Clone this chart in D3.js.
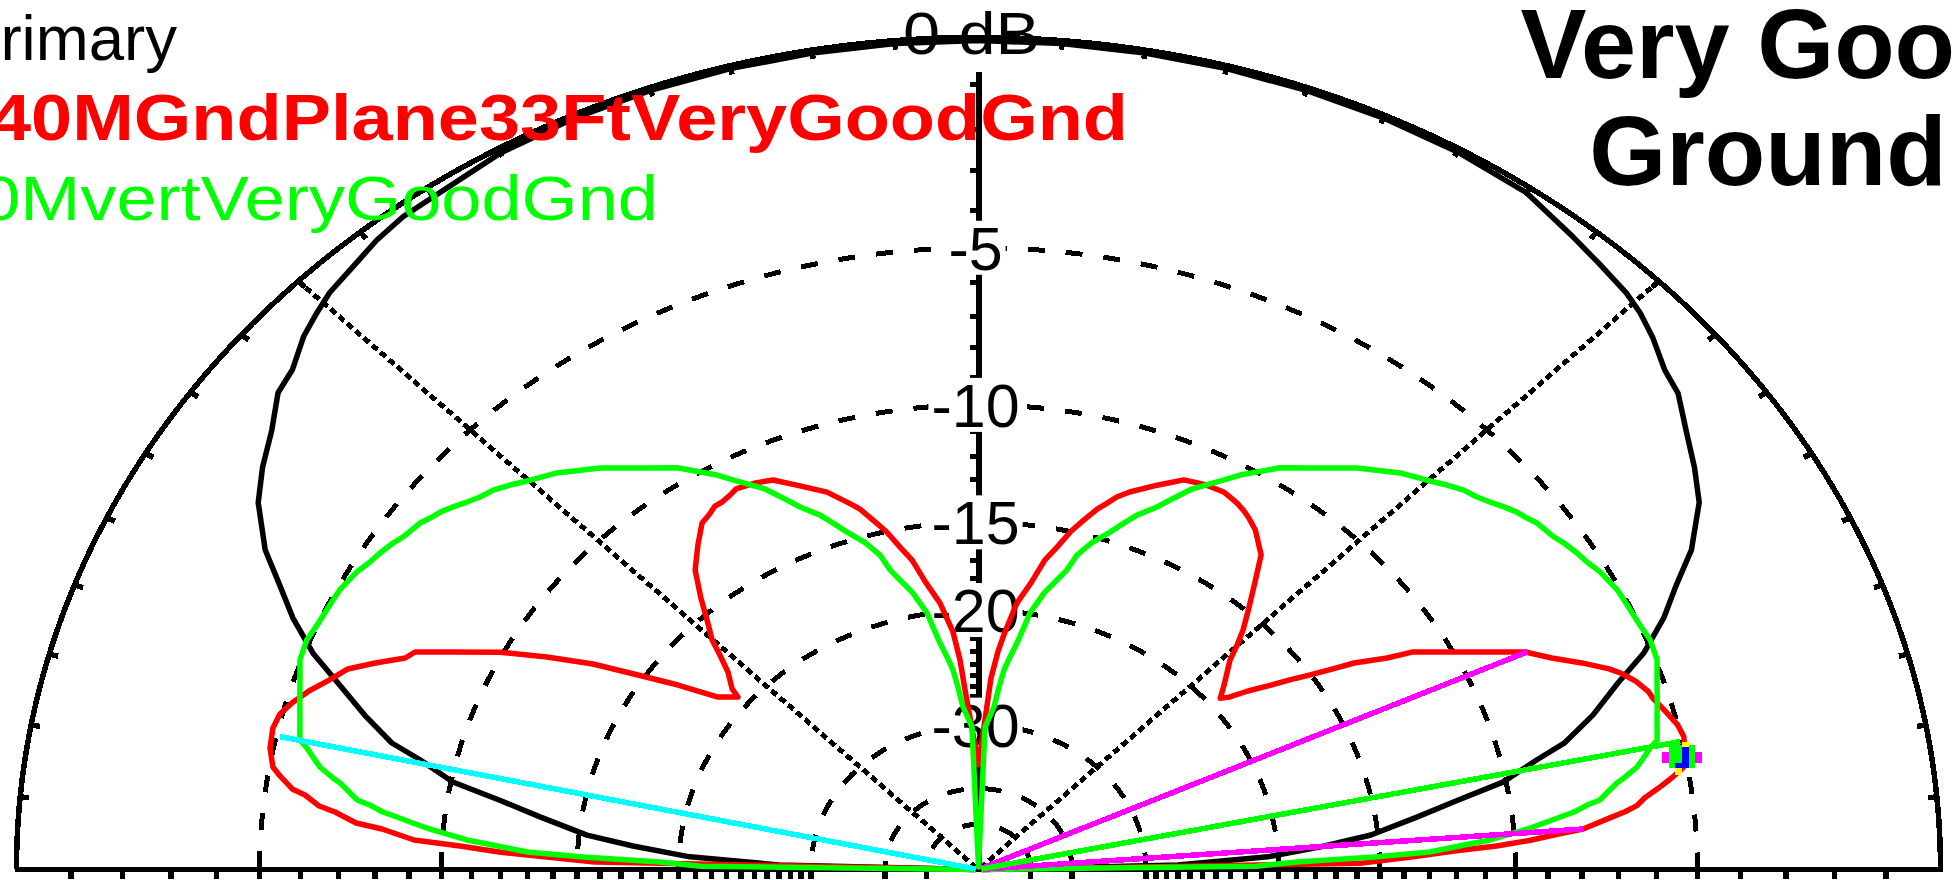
<!DOCTYPE html>
<html><head><meta charset="utf-8">
<script src="https://cdn.jsdelivr.net/npm/d3@7"></script>
<style>
html,body{margin:0;padding:0;background:#fff;overflow:hidden;}
svg{display:block;}
text{font-family:"Liberation Sans",Arial,sans-serif;}
</style></head><body>
<svg id="chart" width="1954" height="880"></svg>
<script>
// ---------------- data (elevation angle in degrees, relative gain in dB) ----------------
const ringDb = [-5, -10, -15, -20, -30, -40, -50];
const labelDb = [-5, -10, -15, -20, -30];
const labelText = ["-5", "-10", "-15", "-20", "-30"];
const topLabel = "0 dB";
const tickAngles = [5,10,15,20,25,30,35,40,45,50,55,60,65,70,75,80,85,95,100,105,110,115,120,125,130,135,140,145,150,155,160,165,170,175];
const scaleTickDb = [-1,-2,-3,-4,-5,-6,-7,-8,-9,-10,-11,-12,-13,-14,-15,-16,-17,-18,-19,-20,-21,-22,-23,-24,-25,-26,-27,-28,-29,-30,-40,-50];
const radialAngles = [45, 135];
const legendNames = ["Primary", "40MGndPlane33FtVeryGoodGnd", "40MvertVeryGoodGnd"];
const titleLines = ["Very Good", "Ground"];

const primaryPattern = [[0,-99],[1.5,-27],[2.9,-20.6],[4.5,-17.5],[5.8,-15.3],[7.9,-13.3],[9.5,-11.7],[10.9,-10.1],[12.8,-8.9],[14,-8.0],[16.2,-7.0],[18.6,-6.1],[20.6,-5.2],[23,-4.4],[25.2,-3.8],[27.4,-3.1],[30.5,-2.4],[33,-2.05],[35.5,-1.73],[38.2,-1.33],[40.1,-1.2],[42.4,-0.9],[44.2,-0.71],[45.8,-0.59],[48.5,-0.47],[50.9,-0.35],[55,-0.12],[60,-0.07],[65,-0.06],[70,-0.06],[75,-0.06],[80,-0.06],[85,-0.06],[90,-0.06],[95,-0.06],[100,-0.06],[105,-0.06],[110,-0.06],[115,-0.07],[120,-0.1],[127.3,-0.23],[129.6,-0.32],[131.9,-0.46],[134.2,-0.57],[135.8,-0.71],[137.6,-0.88],[139.9,-1.2],[141.8,-1.31],[144.3,-1.72],[147,-2.05],[149.5,-2.41],[152.6,-3.09],[154.8,-3.77],[157,-4.39],[159.4,-5.19],[161.4,-6.06],[163.8,-7.02],[166,-7.97],[167.2,-8.9],[169.1,-10.06],[170.5,-11.74],[172.1,-13.32],[174.2,-15.34],[175.5,-17.52],[177.1,-20.64],[178.5,-27],[180,-99]];

const gndPlanePattern = [[0,-99],[1.1,-15.8],[1.9,-13.7],[2.6,-12.0],[3.0,-10.6],[3.5,-9.5],[4.05,-8.65],[4.43,-7.92],[5.4,-7.15],[5.9,-6.73],[6.4,-6.4],[7.1,-6.17],[7.9,-5.78],[8.7,-5.42],[9.5,-5.1],[10.4,-5.0],[12.3,-4.93],[13.45,-5.0],[15.2,-5.23],[16.3,-5.38],[17.1,-5.44],[18.3,-5.64],[19.4,-5.9],[20.2,-6.16],[21.6,-6.76],[23.1,-7.45],[24.7,-8.05],[27.2,-9.59],[30.1,-11.19],[30.9,-12.07],[32.45,-13.23],[33.2,-14.08],[34.2,-15.07],[35.2,-15.95],[36.25,-16.92],[37.45,-17.88],[38.5,-18.88],[39.3,-19.3],[41.0,-18.6],[43.9,-17.4],[45.1,-16.57],[46.3,-15.81],[48.2,-14.82],[50.25,-13.72],[52.15,-12.64],[54.8,-11.92],[56.4,-11.64],[57.5,-11.48],[58.6,-11.36],[59.7,-11.28],[60.6,-11.21],[63,-11.25],[65.5,-11.4],[68.1,-11.97],[70.9,-12.59],[72.2,-12.95],[73.1,-13.32],[74.1,-13.69],[75.4,-14.33],[76.7,-14.98],[78.1,-15.9],[79.5,-16.69],[81.0,-18.08],[82.9,-19.41],[84.5,-21.44],[85.6,-22.97],[86.77,-25.18],[90,-35.6],[93.71,-26.29],[94.36,-23.62],[95.3,-21.44],[97.12,-19.41],[99.0,-18.08],[100.52,-16.69],[101.89,-15.9],[103.3,-14.98],[104.64,-14.33],[105.87,-13.69],[106.99,-13.31],[109.15,-12.59],[111.93,-12.0],[114.53,-11.4],[116.5,-11.25],[118.86,-11.15],[119.85,-11.26],[121.1,-11.36],[122.1,-11.37],[123.3,-11.55],[124.6,-11.69],[126.8,-12.35],[129.3,-13.14],[131.5,-14.27],[133.26,-15.23],[135.1,-16.12],[136.2,-16.95],[137.65,-17.9],[139.7,-18.73],[140.34,-19.3],[142.57,-18.46],[144.63,-16.47],[146.56,-14.72],[148.35,-12.93],[150.35,-11.35],[152.3,-9.89],[154.56,-8.53],[155.95,-7.62],[156.9,-7.45],[158.41,-6.76],[159.81,-6.16],[161.36,-5.82],[162.87,-5.44],[164.34,-5.14],[165.56,-4.94],[166.94,-4.87],[168.79,-4.92],[170.46,-5.08],[171.2,-5.29],[172.27,-5.64],[172.71,-5.98],[173.65,-6.38],[174.1,-6.81],[175.06,-7.41],[175.51,-8.15],[176.54,-9.12],[177.0,-10.58],[177.6,-12.0],[178.1,-13.74],[178.7,-15.78],[180,-99]];

const vertPattern = [[0,-99],[0.8,-21.3],[1.56,-18.97],[2.1,-15.24],[2.56,-12.97],[3.33,-11.7],[3.82,-10.8],[4.51,-10.0],[4.97,-9.48],[5.52,-8.95],[5.96,-8.54],[6.37,-8.12],[6.98,-7.73],[7.37,-7.36],[8.29,-7.05],[8.91,-6.83],[9.31,-6.62],[9.72,-6.44],[10.2,-6.23],[11.06,-6.0],[11.81,-5.8],[12.44,-5.58],[14.3,-5.45],[16.1,-5.3],[17.9,-5.14],[19.65,-4.96],[21.56,-4.92],[23.4,-5.0],[25.77,-5.05],[26.84,-5.07],[28.97,-5.2],[30.3,-5.34],[31.44,-5.42],[32.81,-5.54],[33.74,-5.65],[35.65,-5.77],[36.54,-5.89],[37.51,-5.99],[38.58,-6.15],[39.72,-6.34],[40.83,-6.5],[42.11,-6.62],[43.5,-6.84],[45.11,-7.12],[47.4,-7.46],[50.81,-8.13],[53.9,-8.85],[57.01,-9.48],[60.18,-10.37],[61.4,-10.79],[64.08,-11.6],[65.53,-12.22],[66.93,-12.83],[68.86,-13.45],[70.05,-13.98],[71.37,-14.57],[73.3,-15.3],[74.84,-16.09],[75.7,-17.0],[77.16,-17.86],[78.42,-18.56],[79.25,-19.24],[80.16,-19.94],[80.78,-20.94],[81.64,-22.15],[82.7,-23.28],[83.69,-24.4],[84.45,-25.96],[85.29,-27.97],[87.73,-30.27],[90,-99],[92.27,-30.27],[94.71,-27.97],[95.55,-25.96],[96.31,-24.4],[97.3,-23.28],[98.36,-22.15],[99.22,-20.94],[99.84,-19.94],[100.75,-19.24],[101.58,-18.56],[102.84,-17.86],[104.3,-17.0],[105.16,-16.09],[106.7,-15.3],[108.63,-14.57],[109.95,-13.98],[111.14,-13.45],[113.07,-12.83],[114.47,-12.22],[115.92,-11.6],[118.6,-10.79],[119.82,-10.37],[122.99,-9.48],[126.1,-8.85],[129.19,-8.13],[132.6,-7.46],[134.89,-7.12],[136.5,-6.84],[137.89,-6.62],[139.17,-6.5],[140.28,-6.34],[141.42,-6.15],[142.49,-5.99],[143.46,-5.89],[144.35,-5.77],[146.26,-5.65],[147.19,-5.54],[148.56,-5.42],[149.7,-5.34],[151.03,-5.2],[153.16,-5.07],[154.23,-5.05],[156.6,-5.0],[158.44,-4.92],[160.35,-4.96],[162.1,-5.14],[163.9,-5.3],[165.7,-5.45],[167.56,-5.58],[168.19,-5.8],[168.94,-6.0],[169.8,-6.23],[170.28,-6.44],[170.69,-6.62],[171.09,-6.83],[171.71,-7.05],[172.63,-7.36],[173.02,-7.73],[173.63,-8.12],[174.04,-8.54],[174.48,-8.95],[175.03,-9.48],[175.49,-10.0],[176.18,-10.8],[176.67,-11.7],[177.44,-12.97],[177.9,-15.24],[178.44,-18.97],[179.2,-21.3],[180,-99]];

// cursor / beamwidth lines (angle, dB at the outer end)
const cursorAngles = [167.6, 24.63, 4.43, 11.9];
const cursorDb = [-5.09, -7.99, -7.92, -5.04];
const cursorColors = ["#00ffff", "#ff00ff", "#ff00ff", "#00ff00"];
const markerPoint = [10.4, -5.0];

// ---------------- scales ----------------
const cx = 978.5, cy = 869.5, Rx = 962, Ry = 832;
const x = d3.scaleLinear().domain([-1, 1]).range([cx - Rx, cx + Rx]);
const y = d3.scaleLinear().domain([0, 1]).range([cy, cy - Ry]);
// ARRL log scale: radius = 0.89^(-dB/2)
const rScale = d3.scaleLog().domain([Math.pow(0.89, 50), 1]).range([-100, 0]);
const rad = db => rScale.invert(Math.max(db, -100));
const P = (a, db) => { const r = rad(db), t = a * Math.PI / 180; return [x(r * Math.cos(t)), y(r * Math.sin(t))]; };
const line = d3.line();

const svg = d3.select("#chart");
const grid = svg.append("g").attr("fill", "none").attr("stroke", "#000").attr("shape-rendering", "crispEdges");

const arcPts = db => d3.range(0, 180.01, 0.5).map(a => P(a, db));

// dashed dB rings
grid.selectAll("path.ring").data(ringDb).join("path")
  .attr("class", "ring").attr("d", d => line(arcPts(d)))
  .attr("stroke-width", 5).attr("stroke-dasharray", "17,21");

// dotted radials
grid.selectAll("path.radial").data(radialAngles).join("path")
  .attr("class", "radial").attr("d", a => line([P(a, -100), P(a, 0)]))
  .attr("stroke-width", 5).attr("stroke-dasharray", "7,4");

// outer circle
grid.append("path").attr("d", line(arcPts(0))).attr("stroke-width", 5.5);

// ticks on outer circle
grid.selectAll("path.otick").data(tickAngles).join("path")
  .attr("class", "otick")
  .attr("d", a => {
    const p = P(a, 0); const dx = cx - p[0], dy = cy - p[1]; const L = Math.hypot(dx, dy);
    return line([p, [p[0] + dx / L * 9, p[1] + dy / L * 9]]);
  }).attr("stroke-width", 5.5);

// baseline
grid.append("path").attr("d", line([[x(-1) - 2, cy], [x(1) + 2, cy]])).attr("stroke-width", 5.5);
// baseline ticks (both sides)
const btData = scaleTickDb.flatMap(d => [-1, 1].map(s => s * rad(d)));
grid.selectAll("path.btick").data(btData).join("path")
  .attr("class", "btick").attr("d", u => line([[x(u), cy + 2], [x(u), cy + 9]]))
  .attr("stroke-width", 5.5);

// vertical axis
grid.append("path").attr("d", line([[x(0), y(0)], [x(0), y(0.958)]])).attr("stroke-width", 6);
grid.selectAll("path.vtick").data(scaleTickDb.filter(d => d >= -30)).join("path")
  .attr("class", "vtick").attr("d", d => line([[x(0) - 9, y(rad(d))], [x(0), y(rad(d))]]))
  .attr("stroke-width", 5);

// ring labels with white background
const labG = svg.append("g");
labelDb.forEach((d, i) => {
  const t = labG.append("text").attr("x", x(0) - 3).attr("y", y(rad(d)) + 22)
    .attr("text-anchor", "middle").attr("font-size", 61).attr("fill", "#000").text(labelText[i]);
  const b = t.node().getBBox();
  labG.insert("rect", "text").attr("x", b.x - 3).attr("y", y(rad(d)) - 27).attr("width", b.width + 6).attr("height", 54).attr("fill", "#fff");
});

// traces
const traces = svg.append("g").attr("fill", "none").attr("stroke-width", 5.5).attr("stroke-linejoin", "round");
traces.append("path").attr("d", line(primaryPattern.map(d => P(d[0], d[1])))).attr("stroke", "#000");
traces.append("path").attr("d", line(gndPlanePattern.map(d => P(d[0], d[1])))).attr("stroke", "#ff0000");
traces.append("path").attr("d", line(vertPattern.map(d => P(d[0], d[1])))).attr("stroke", "#00ff00");

// cursor lines
traces.selectAll("path.cur").data(cursorAngles).join("path")
  .attr("class", "cur").attr("d", (a, i) => line([P(a, -100), P(a, cursorDb[i])]))
  .attr("stroke", (a, i) => cursorColors[i]).attr("shape-rendering", "crispEdges");

// marker cluster
const mp = P(markerPoint[0], markerPoint[1]);
const mk = svg.append("g").attr("transform", `translate(${mp[0]},${mp[1]})`).attr("shape-rendering", "crispEdges");
[["#ff00ff",-24,-5,7,11],["#ff00ff",9,-5,7,11],["#00ff00",-17,-12,26,23],["#0000ff",-4,-10,7,21],["#0000ff",-11,6,7,5],["#ffff00",-4,-15,7,5],["#ffff00",-11,11,7,7]]
  .forEach(r => mk.append("rect").attr("fill", r[0]).attr("x", r[1]).attr("y", r[2]).attr("width", r[3]).attr("height", r[4]));

// top label
svg.append("text").attr("x", 903).attr("y", 54).attr("font-size", 59).attr("textLength", 137)
  .attr("lengthAdjust", "spacingAndGlyphs").attr("fill", "#000").text(topLabel);

// legend (partly cut by left edge, as in the source image)
svg.append("text").attr("x", -42).attr("y", 60).attr("font-size", 63).attr("textLength", 219)
  .attr("lengthAdjust", "spacingAndGlyphs").attr("fill", "#000").text(legendNames[0]);
svg.append("text").attr("x", -10).attr("y", 140).attr("font-size", 64).attr("font-weight", "bold").attr("textLength", 1138)
  .attr("lengthAdjust", "spacingAndGlyphs").attr("fill", "#ff0000").text(legendNames[1]);
svg.append("text").attr("x", -60).attr("y", 220).attr("font-size", 63).attr("textLength", 718)
  .attr("lengthAdjust", "spacingAndGlyphs").attr("fill", "#00ff00").text(legendNames[2]);

// title
svg.append("text").attr("x", 1768).attr("y", 78).attr("text-anchor", "middle").attr("font-size", 99)
  .attr("font-weight", "bold").attr("fill", "#000").text(titleLines[0]);
svg.append("text").attr("x", 1768).attr("y", 185).attr("text-anchor", "middle").attr("font-size", 99)
  .attr("font-weight", "bold").attr("fill", "#000").text(titleLines[1]);
</script>
</body></html>
